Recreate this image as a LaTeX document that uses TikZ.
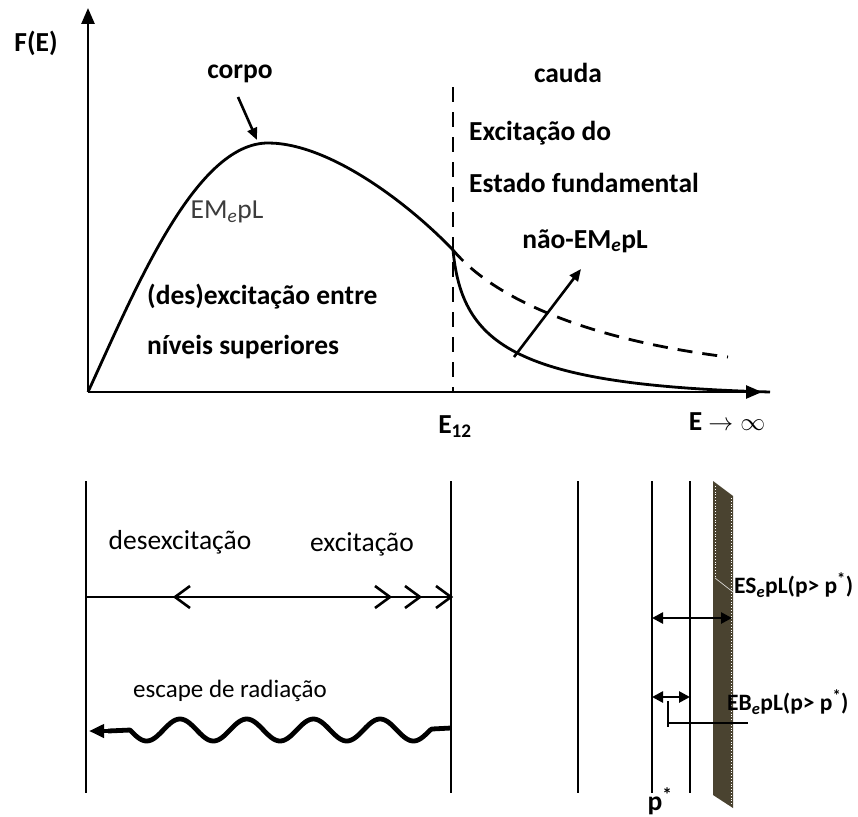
\documentclass[tikz,border=0pt]{standalone}
\usepackage{fontspec}
\setmainfont{Carlito}
\usetikzlibrary{arrows.meta}
\definecolor{barcol}{HTML}{4A4330}
\definecolor{emgray}{HTML}{3C3C3C}
\newcommand\labB{\fontsize{27.5}{32}\selectfont\bfseries}
\newcommand\labR{\fontsize{27.5}{32}\selectfont}
\newcommand\labS{\fontsize{23.5}{28}\selectfont\bfseries}
\newcommand\labE{\fontsize{25}{30}\selectfont}
\begin{document}
\begin{tikzpicture}[x=1pt,y=-1pt,
  lblB/.style={font=\labB, inner sep=0pt},
  lblR/.style={font=\labR, inner sep=0pt},
  lblS/.style={font=\labS, inner sep=0pt},
  axisline/.style={line width=2.6pt, -{Triangle[length=16pt,width=13pt]}},
  curveline/.style={line width=2.8pt},
  dashline/.style={line width=2.8pt, dash pattern=on 15pt off 10pt},
  ptr/.style={line width=2.6pt, -{Triangle[length=12pt,width=10pt]}},
  wall/.style={line width=2.6pt},
  dbl/.style={line width=2.6pt, {Triangle[length=11pt,width=11pt]}-{Triangle[length=11pt,width=11pt]}},
  chev/.style={line width=2.6pt, line join=miter}
]
\useasboundingbox (0,0) rectangle (858,816);

% ---------------- top graph ----------------
\coordinate (O) at (88,392);
\coordinate (ytop) at (88,8);
\coordinate (xend) at (762,392);
\coordinate (peak) at (268,143);
\coordinate (E12pt) at (453,250);
\coordinate (tailend) at (770,392);
\coordinate (dashend) at (728,357);
\coordinate (vtop) at (453,87);
\coordinate (vbot) at (453,392);

\draw[axisline] (O) -- (ytop);
\draw[axisline] (O) -- (xend);

\draw[curveline] (O) .. controls (135,290) and (195,143) .. (peak)
  .. controls (330,143) and (410,205) .. (E12pt);
\draw[curveline] (E12pt) .. controls (462,345) and (515,385) .. (tailend);
\draw[dashline] (E12pt) .. controls (495,300) and (590,340) .. (dashend);
\draw[dashline] (vtop) -- (vbot);

\node[lblB] (FE) at (36,43) {F(E)};
\node[lblB] (corpo) at (240,74) {corpo};
\node[lblB] (cauda) at (568,73) {cauda};
\node[lblB, anchor=west] (exc1) at (469,133) {Excitação do};
\node[lblB, anchor=west] (exc2) at (469,183) {Estado fundamental};
\node[lblR, text=emgray] (em) at (227,212) {EM\textsubscript{\textit{e}}pL};
\node[lblB, anchor=west] (des1) at (147,297) {(des)excitação entre};
\node[lblB, anchor=west] (des2) at (147,347) {níveis superiores};
\node[lblB] (naoem) at (585,241) {não-EM\textsubscript{\textit{e}}pL};
\node[lblB] (e12) at (455,427) {E\textsubscript{12}};
\node[lblB] (einf) at (727,422) {E $\rightarrow\infty$};

\coordinate (corpoTail) at (238,97);
\coordinate (corpoTip) at (257,140);
\draw[ptr] (corpoTail) -- (corpoTip);
\coordinate (naoTail) at (514,357);
\coordinate (naoTip) at (581,269);
\draw[ptr] (naoTail) -- (naoTip);

% ---------------- bottom left ----------------
\coordinate (wl1) at (86,481);
\coordinate (wl2) at (86,793);
\coordinate (wr1) at (451,481);
\coordinate (wr2) at (451,793);
\draw[wall] (wl1) -- (wl2);
\draw[wall] (wr1) -- (wr2);

\node[lblR] (desex) at (180,542) {desexcitação};
\node[lblR] (excit) at (362,544) {excitação};
\node[font=\labE, inner sep=0pt] (escape) at (230,691) {escape de radiação};

\coordinate (hl) at (86,597);
\coordinate (hr) at (451,597);
\draw[line width=2.6pt] (hl) -- (hr);
\draw[chev] (190,586) -- (175,597) -- (190,608);
\draw[chev] (375,586) -- (390,597) -- (375,608);
\draw[chev] (405,586) -- (420,597) -- (405,608);
\draw[chev] (436,586) -- (451,597) -- (436,608);

\coordinate (wvR) at (451,728);
\coordinate (wvL) at (89,731);
\draw[line width=4.8pt, line join=round]
  (wvR) -- (432,729)
  -- plot[domain=430:130, samples=160, smooth] (\x,{730-11*cos(5.3973*(\x-180))})
  -- (108,731);
\draw[line width=4.5pt, -{Triangle[length=15pt,width=13pt]}] (110,731) -- (wvL);

% ---------------- bottom right ----------------
\coordinate (a1) at (578,481);
\coordinate (a2) at (578,793);
\coordinate (b1) at (652,481);
\coordinate (b2) at (652,793);
\coordinate (c1) at (690,481);
\coordinate (c2) at (690,793);
\draw[wall] (a1) -- (a2);
\draw[wall] (b1) -- (b2);
\draw[wall] (c1) -- (c2);

\fill[barcol] (713,481) -- (733,496) -- (733,808) -- (713,795) -- cycle;
\draw[white, line width=0.8pt, dotted] (731,498) -- (731,805);
\draw[white, line width=0.8pt, dotted] (715,486) -- (715,578);
\draw[white!80!barcol, line width=0.7pt] (715,578) -- (733,592);

\node[lblS, anchor=west] (es) at (734,585) {ES\textsubscript{\textit{e}}pL(p> p\textsuperscript{*})};
\node[lblS, anchor=west] (eb) at (727,702) {EB\textsubscript{\textit{e}}pL(p> p\textsuperscript{*})};
\node[lblB] (pstar) at (660,801) {p\textsuperscript{*}};

\coordinate (esL) at (652,618);
\coordinate (esR) at (732,618);
\draw[dbl] (esL) -- (esR);
\coordinate (ebL) at (652,697);
\coordinate (ebR) at (690,697);
\draw[dbl] (ebL) -- (ebR);

\coordinate (lv1) at (668,701);
\coordinate (lv2) at (668,727);
\coordinate (lh1) at (668,723);
\coordinate (lh2) at (748,723);
\draw[line width=2.6pt] (lv1) -- (lv2);
\draw[line width=2.6pt] (lh1) -- (lh2);
\end{tikzpicture}
\end{document}
